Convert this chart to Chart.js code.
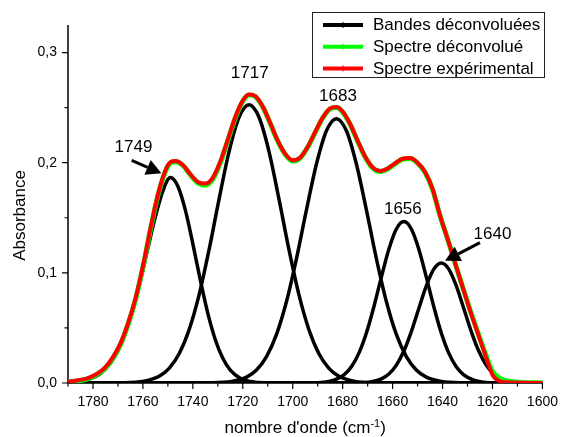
<!DOCTYPE html>
<html>
<head>
<meta charset="utf-8">
<script src="https://cdn.jsdelivr.net/npm/chart.js@4.4.0/dist/chart.umd.min.js"></script>
<style>
  html, body { margin: 0; padding: 0; background: #fff; }
  canvas { display: block; }
</style>
</head>
<body>
<canvas id="spectre" width="569" height="437"></canvas>
<script>
const FONT = '"Liberation Sans", Arial, sans-serif';

// ticks
const xMajorTicks = [1780, 1760, 1740, 1720, 1700, 1680, 1660, 1640, 1620, 1600];
const yMajorTicks = [0, 0.1, 0.2, 0.3];

// nombre d'onde (cm-1) des deux spectres
const wavenumbers = [1790, 1786, 1782, 1778, 1775, 1772, 1769, 1766, 1763, 1760,
  1757, 1754, 1751, 1749, 1747, 1744, 1741, 1738, 1735, 1732,
  1729, 1726, 1723, 1720, 1717.5, 1715, 1712, 1709, 1706, 1703,
  1700, 1697, 1694, 1691, 1688, 1685, 1682.5, 1680, 1677, 1674,
  1671, 1668, 1665, 1662, 1659, 1656, 1653, 1650, 1647, 1644,
  1641, 1638, 1635, 1632, 1629, 1626, 1623, 1620, 1617, 1614,
  1610, 1605, 1600];

const spectreExperimental = [0.0012, 0.0025, 0.0045, 0.0090, 0.0145, 0.0235, 0.0360, 0.0540, 0.0765, 0.1060,
  0.1400, 0.1710, 0.1930, 0.2005, 0.2015, 0.1980, 0.1895, 0.1825, 0.1810, 0.1865,
  0.2010, 0.2210, 0.2415, 0.2565, 0.2620, 0.2605, 0.2510, 0.2360, 0.2200, 0.2080,
  0.2022, 0.2048, 0.2145, 0.2279, 0.2409, 0.2493, 0.2505, 0.2464, 0.2351, 0.2199,
  0.2056, 0.1957, 0.1925, 0.1948, 0.1995, 0.2036, 0.2042, 0.2000, 0.1915, 0.1762,
  0.1520, 0.1310, 0.1090, 0.0872, 0.0660, 0.0460, 0.0262, 0.0075, 0.0015, 0.0006,
  0.0002, 0.0001, 0.0000];

const spectreDeconvolue = [0.0008, 0.0020, 0.0038, 0.0082, 0.0135, 0.0225, 0.0350, 0.0530, 0.0755, 0.1050,
  0.1390, 0.1700, 0.1920, 0.1995, 0.2008, 0.1975, 0.1890, 0.1815, 0.1795, 0.1850,
  0.1998, 0.2200, 0.2405, 0.2558, 0.2615, 0.2600, 0.2505, 0.2355, 0.2195, 0.2075,
  0.2015, 0.2042, 0.2140, 0.2275, 0.2405, 0.2488, 0.2500, 0.2460, 0.2347, 0.2195,
  0.2052, 0.1952, 0.1920, 0.1943, 0.1990, 0.2031, 0.2037, 0.1996, 0.1912, 0.1758,
  0.1518, 0.1310, 0.1092, 0.0875, 0.0665, 0.0468, 0.0275, 0.0105, 0.0042, 0.0018,
  0.0007, 0.0002, 0.0001];

// bandes déconvoluées
const band1749X = [1790, 1787, 1781, 1777, 1773, 1770, 1767, 1764, 1761, 1758, 1755, 1752, 1749,
  1746, 1743, 1740, 1737, 1734, 1731, 1728, 1725, 1721, 1717, 1711, 1600];
const band1749Y = [0.0008, 0.0015, 0.0040, 0.0085, 0.0180, 0.0290, 0.0450, 0.0660, 0.0930, 0.1225, 0.1510, 0.1745, 0.1865,
  0.1786, 0.1569, 0.1264, 0.0933, 0.0632, 0.0393, 0.0224, 0.0117, 0.0043, 0.0014, 0.0002, 0];

const band1717X = [1790, 1767.5, 1759.5, 1753.5, 1749.5, 1745.5, 1741.5, 1737.5, 1733.5, 1729.5, 1725.5, 1721.5, 1717.5,
  1713.5, 1709.5, 1705.5, 1701.5, 1697.5, 1693.5, 1689.5, 1685.5, 1681.5, 1675.5, 1667.5, 1600];
const band1717Y = [0, 0.0002, 0.0016, 0.0061, 0.0133, 0.0265, 0.0483, 0.0800, 0.1210, 0.1669, 0.2101, 0.2412, 0.2525,
  0.2412, 0.2101, 0.1669, 0.1210, 0.0800, 0.0483, 0.0265, 0.0133, 0.0061, 0.0016, 0.0002, 0];

const band1683X = [1790, 1732.5, 1724.5, 1718.5, 1714.5, 1710.5, 1706.5, 1702.5, 1698.5, 1694.5, 1690.5, 1686.5, 1682.5,
  1678.5, 1674.5, 1670.5, 1666.5, 1662.5, 1658.5, 1654.5, 1650.5, 1646.5, 1640.5, 1632.5, 1600];
const band1683Y = [0, 0.0002, 0.0013, 0.0053, 0.0118, 0.0239, 0.0441, 0.0740, 0.1130, 0.1572, 0.1988, 0.2290, 0.2400,
  0.2290, 0.1988, 0.1572, 0.1130, 0.0740, 0.0441, 0.0239, 0.0118, 0.0053, 0.0013, 0.0002, 0];

const band1656X = [1790, 1693.5, 1687.5, 1683.5, 1679.5, 1676.5, 1673.5, 1670.5, 1667.5, 1664.5, 1661.5, 1658.5, 1655.5,
  1652.5, 1649.5, 1646.5, 1643.5, 1640.5, 1637.5, 1634.5, 1631.5, 1627.5, 1623.5, 1617.5, 1600];
const band1656Y = [0, 0.0001, 0.0007, 0.0025, 0.0073, 0.0147, 0.0271, 0.0454, 0.0692, 0.0961, 0.1214, 0.1398, 0.1465,
  0.1398, 0.1214, 0.0961, 0.0692, 0.0454, 0.0271, 0.0147, 0.0073, 0.0025, 0.0007, 0.0001, 0];

const band1640X = [1790, 1672.5, 1668.5, 1664.5, 1661.5, 1658.5, 1655.5, 1652.5, 1649.5, 1646.5, 1643.5, 1640.5,
  1637.5, 1634.5, 1631.5, 1628.5, 1625.5, 1622.5, 1619.5, 1616.5, 1612.5, 1608.5, 1600];
const band1640Y = [0, 0.0003, 0.0011, 0.0037, 0.0081, 0.0162, 0.0290, 0.0467, 0.0677, 0.0882, 0.1034, 0.1090,
  0.1034, 0.0882, 0.0677, 0.0467, 0.0290, 0.0162, 0.0081, 0.0037, 0.0011, 0.0003, 0];

// étiquettes des pics (position en nombre d'onde / absorbance)
const peakNotes = [
  { text: '1749', at: [1763.8, 0.214], arrow: [[1764.5, 0.202], [1752.6, 0.1905]] },
  { text: '1717', at: [1717.2, 0.281] },
  { text: '1683', at: [1681.9, 0.260] },
  { text: '1656', at: [1655.9, 0.158] },
  { text: '1640', at: [1620.0, 0.135], arrow: [[1625.0, 0.1275], [1639.0, 0.111]] }
];

function toPoints(xs, ys) {
  return xs.map((x, i) => ({ x: x, y: ys[i] }));
}

function isMajorY(v) {
  return yMajorTicks.some(m => Math.abs(m - v) < 1e-9);
}

function bandDataset(xs, ys) {
  return {
    label: 'Bandes déconvoluées',
    data: toPoints(xs, ys),
    borderColor: '#000000',
    borderWidth: 3.5,
    pointRadius: 0,
    fill: false,
    cubicInterpolationMode: 'monotone',
    order: 2
  };
}

// axes façon Origin : trait gauche + bas, graduations extérieures
const axesPlugin = {
  id: 'axesOrigin',
  beforeDatasetsDraw(chart) {
    const { ctx, chartArea: a, scales: { x, y } } = chart;
    ctx.save();
    ctx.strokeStyle = '#000';
    ctx.lineWidth = 1.5;
    ctx.beginPath();
    ctx.moveTo(a.left, a.top);
    ctx.lineTo(a.left, a.bottom);
    ctx.lineTo(a.right, a.bottom);
    ctx.stroke();

    ctx.lineWidth = 1.2;
    ctx.beginPath();
    x.ticks.forEach(t => {
      if (t.value % 10 !== 0) return;
      const px = x.getPixelForValue(t.value);
      const len = xMajorTicks.includes(t.value) ? 6 : 3.5;
      ctx.moveTo(px, a.bottom);
      ctx.lineTo(px, a.bottom + len);
    });
    y.ticks.forEach(t => {
      const k = t.value / 0.05;
      if (Math.abs(k - Math.round(k)) > 1e-6) return;
      const py = y.getPixelForValue(t.value);
      const len = isMajorY(t.value) ? 6 : 3.5;
      ctx.moveTo(a.left - len, py);
      ctx.lineTo(a.left, py);
    });
    ctx.stroke();
    ctx.restore();
  }
};

// annotations, légende et titres d'axes
const decorPlugin = {
  id: 'decor',
  afterDraw(chart) {
    const { ctx, chartArea: a, scales: { x, y } } = chart;
    ctx.save();

    // pics
    ctx.fillStyle = '#000';
    ctx.strokeStyle = '#000';
    ctx.font = '17px ' + FONT;
    ctx.textAlign = 'center';
    ctx.textBaseline = 'middle';
    peakNotes.forEach(n => {
      ctx.fillText(n.text, x.getPixelForValue(n.at[0]), y.getPixelForValue(n.at[1]));
      if (!n.arrow) return;
      const x0 = x.getPixelForValue(n.arrow[0][0]), y0 = y.getPixelForValue(n.arrow[0][1]);
      const x1 = x.getPixelForValue(n.arrow[1][0]), y1 = y.getPixelForValue(n.arrow[1][1]);
      const ang = Math.atan2(y1 - y0, x1 - x0);
      const head = 15, half = 8;
      const bx = x1 - head * Math.cos(ang), by = y1 - head * Math.sin(ang);
      ctx.lineWidth = 3;
      ctx.beginPath();
      ctx.moveTo(x0, y0);
      ctx.lineTo(bx, by);
      ctx.stroke();
      ctx.beginPath();
      ctx.moveTo(x1, y1);
      ctx.lineTo(bx + half * Math.sin(ang), by - half * Math.cos(ang));
      ctx.lineTo(bx - half * Math.sin(ang), by + half * Math.cos(ang));
      ctx.closePath();
      ctx.fill();
    });

    // légende
    const seen = new Set();
    const items = [];
    chart.data.datasets.forEach(ds => {
      if (seen.has(ds.label)) return;
      seen.add(ds.label);
      items.push(ds);
    });
    items.sort((p, q) => q.order - p.order);
    ctx.lineWidth = 1;
    ctx.strokeStyle = '#222';
    ctx.strokeRect(312.5, 12.5, 232, 65);
    ctx.textAlign = 'left';
    items.forEach((ds, i) => {
      const ry = 25 + i * 21.7;
      ctx.strokeStyle = ds.borderColor;
      ctx.lineWidth = 4;
      ctx.beginPath();
      ctx.moveTo(323, ry);
      ctx.lineTo(363, ry);
      ctx.stroke();
      ctx.lineWidth = 1;
      ctx.beginPath();
      ctx.moveTo(343, ry - 3);
      ctx.lineTo(343, ry + 3);
      ctx.stroke();
      ctx.fillStyle = '#000';
      ctx.fillText(ds.label, 373, ry + 0.5);
    });

    // titre Y
    ctx.save();
    ctx.translate(20, 215.5);
    ctx.rotate(-Math.PI / 2);
    ctx.textAlign = 'center';
    ctx.font = '17px ' + FONT;
    ctx.fillText('Absorbance', 0, 0);
    ctx.restore();

    // titre X avec exposant
    const main = "nombre d'onde (cm", sup = '-1', close = ')';
    ctx.textBaseline = 'alphabetic';
    ctx.textAlign = 'left';
    ctx.font = '17px ' + FONT;
    const w1 = ctx.measureText(main).width, w3 = ctx.measureText(close).width;
    ctx.font = '11px ' + FONT;
    const w2 = ctx.measureText(sup).width;
    const cx = (a.left + a.right) / 2;
    let tx = cx - (w1 + w2 + w3) / 2;
    const base = 433;
    ctx.font = '17px ' + FONT;
    ctx.fillText(main, tx, base);
    tx += w1;
    ctx.font = '11px ' + FONT;
    ctx.fillText(sup, tx, base - 6);
    tx += w2;
    ctx.font = '17px ' + FONT;
    ctx.fillText(close, tx, base);

    ctx.restore();
  }
};

new Chart(document.getElementById('spectre').getContext('2d'), {
  type: 'line',
  data: {
    datasets: [
      {
        label: 'Spectre expérimental',
        data: toPoints(wavenumbers, spectreExperimental),
        borderColor: '#ff0000',
        borderWidth: 4,
        pointRadius: 0,
        fill: false,
        cubicInterpolationMode: 'monotone',
        order: 0
      },
      {
        label: 'Spectre déconvolué',
        data: toPoints(wavenumbers, spectreDeconvolue),
        borderColor: '#00ff00',
        borderWidth: 5,
        pointRadius: 0,
        fill: false,
        cubicInterpolationMode: 'monotone',
        order: 1
      },
      bandDataset(band1749X, band1749Y),
      bandDataset(band1717X, band1717Y),
      bandDataset(band1683X, band1683Y),
      bandDataset(band1656X, band1656Y),
      bandDataset(band1640X, band1640Y)
    ]
  },
  options: {
    responsive: false,
    animation: false,
    layout: { padding: { top: 25, right: 17, left: 0, bottom: 0 } },
    plugins: {
      legend: { display: false },
      tooltip: { enabled: false }
    },
    scales: {
      x: {
        type: 'linear',
        reverse: true,
        min: 1600,
        max: 1790,
        grid: { display: false, drawTicks: false, tickLength: 0 },
        border: { display: false },
        ticks: {
          stepSize: 10,
          autoSkip: false,
          maxRotation: 0,
          padding: 11,
          color: '#000',
          font: { size: 14, family: FONT },
          callback: v => xMajorTicks.includes(v) ? String(v) : ''
        },
        afterFit: s => { s.height = 54; }
      },
      y: {
        type: 'linear',
        min: 0,
        max: 0.325,
        grid: { display: false, drawTicks: false, tickLength: 0 },
        border: { display: false },
        ticks: {
          stepSize: 0.05,
          autoSkip: false,
          padding: 11,
          color: '#000',
          font: { size: 14, family: FONT },
          callback: v => isMajorY(v) ? v.toFixed(1).replace('.', ',') : ''
        },
        afterFit: s => { s.width = 68; }
      }
    }
  },
  plugins: [axesPlugin, decorPlugin]
});
</script>
</body>
</html>
